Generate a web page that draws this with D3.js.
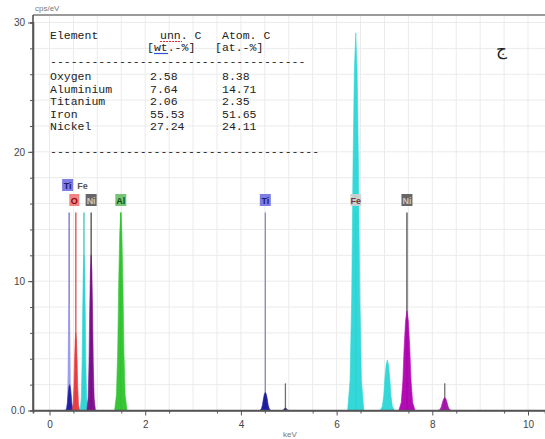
<!DOCTYPE html>
<html>
<head>
<meta charset="utf-8">
<script src="https://cdn.jsdelivr.net/npm/d3@7"></script>
<style>
  html, body { margin: 0; padding: 0; background: #fff; }
  svg { display: block; }
</style>
</head>
<body>
<div id="chart"></div>
<script>
// spectrum peaks (energy in keV, counts in cps/eV)
const peakLines = ["Ti L", "Ti L", "O K", "Fe L", "Ni L", "Al K", "Ti Ka", "Ti Kb", "Fe Ka", "Fe Kb", "Ni Ka", "Ni Kb"];
const peakEnergy = [0.41, 0.42, 0.55, 0.72, 0.87, 1.49, 4.51, 4.93, 6.40, 7.06, 7.47, 8.26];
const peakCounts = [8.3, 2.0, 6.0, 12.0, 12.0, 15.3, 1.4, 0.2, 29.2, 3.9, 7.7, 1.0];
const peakHalfWidth = [0.05, 0.09, 0.08, 0.08, 0.09, 0.13, 0.12, 0.08, 0.17, 0.15, 0.17, 0.14];

// element marker lines
const markerName = ["Ti", "O", "Fe", "Ni", "Al", "Ti", "Fe", "Ni"];
const markerEnergy = [0.41, 0.55, 0.72, 0.87, 1.49, 4.51, 6.40, 7.47];
const markerTop = 15.3;
const minorLineEnergy = [4.93, 8.26];
const minorLineTop = [2.1, 2.1];

// quantification table
const tableElements = ["Oxygen", "Aluminium", "Titanium", "Iron", "Nickel"];
const tableWt = ["2.58", "7.64", "2.06", "55.53", "27.24"];
const tableAt = ["8.38", "14.71", "2.35", "51.65", "24.11"];

const xTicks = [0, 2, 4, 6, 8, 10];
const yTicks = [0, 10, 20, 30];

const chartW = 545, chartH = 439;
const plotLeft = 33, plotRight = 545, plotTop = 15, plotBottom = 410.5;

const peakFill = {
  "Ti L": ["#9c9cf2", "#1c1ca0"], "O K": ["#e8383c"], "Fe L": ["#2cd4d4"],
  "Ni L": ["#7a0a8a"], "Al K": ["#2ec42e"], "Ti Ka": ["#16169a"], "Ti Kb": ["#333366"],
  "Fe Ka": ["#2ad6d6"], "Fe Kb": ["#2ad6d6"], "Ni Ka": ["#b000b0"], "Ni Kb": ["#a010a8"]
};
const markerStyle = {
  Ti: { line: "#6f6fd8", box: "#6f6fe0", text: "#1c1c70" },
  O: { line: "#e04848", box: "#ef7575", text: "#8b0000" },
  Fe: { line: "#34c6c6", box: "#d4d0d0", text: "#7a3434" },
  Ni: { line: "#4a4a4a", box: "#555555", text: "#c8c8c8" },
  Al: { line: "#2fbf2f", box: "#68bd68", text: "#0b4d0b" }
};
// relative outline of one peak (dx in half-widths, dy in fraction of height)
const peakShape = [[-1, 0], [-0.7, 0.08], [-0.5, 0.3], [-0.34, 0.64], [-0.17, 0.9], [0, 1],
                   [0.17, 0.9], [0.34, 0.64], [0.5, 0.3], [0.7, 0.08], [1, 0]];

const x = d3.scaleLinear().domain([-0.345, 10.355]).range([plotLeft, plotRight]);
const y = d3.scaleLinear().domain([0, 30]).range([plotBottom, 22.5]);

const svg = d3.select("#chart").append("svg")
  .attr("width", chartW).attr("height", chartH)
  .style("font-family", "Arial, 'Liberation Sans', sans-serif");

// grid
const grid = svg.append("g").attr("stroke", "#ebebeb").attr("stroke-width", 1);
grid.selectAll("line.v").data(d3.range(0, 10.5, 0.5)).enter().append("line")
  .attr("x1", d => x(d)).attr("x2", d => x(d)).attr("y1", plotTop).attr("y2", plotBottom);
grid.selectAll("line.h").data(d3.range(2, 31, 2)).enter().append("line")
  .attr("x1", plotLeft).attr("x2", plotRight).attr("y1", d => y(d)).attr("y2", d => y(d));

// frame top
svg.append("line").attr("x1", plotLeft).attr("x2", plotRight).attr("y1", plotTop).attr("y2", plotTop)
  .attr("stroke", "#9a9a9a").attr("stroke-width", 2);

// table
const tbl = svg.append("g")
  .style("font-family", "'Liberation Mono', 'DejaVu Sans Mono', monospace")
  .style("font-size", "11.5px").attr("fill", "#222");
tbl.append("text").attr("x", 50).attr("y", 39).text("Element");
tbl.append("text").attr("x", 160).attr("y", 39).text("unn. C");
tbl.append("text").attr("x", 222).attr("y", 39).text("Atom. C");
tbl.append("text").attr("x", 147).attr("y", 51).text("[wt.-%]");
tbl.append("text").attr("x", 215).attr("y", 51).text("[at.-%]");
tbl.append("line").attr("x1", 160).attr("x2", 182).attr("y1", 41.5).attr("y2", 41.5)
  .attr("stroke", "#e03030").attr("stroke-width", 1.2).attr("stroke-dasharray", "2,1");
tbl.append("line").attr("x1", 154).attr("x2", 168).attr("y1", 53.5).attr("y2", 53.5)
  .attr("stroke", "#3050d0").attr("stroke-width", 1.2);
tbl.append("text").attr("x", 50).attr("y", 65).text("-".repeat(37));
tbl.selectAll("text.el").data(tableElements).enter().append("text")
  .attr("x", 50).attr("y", (d, i) => 80 + i * 12.5).text(d => d);
tbl.selectAll("text.wt").data(tableWt).enter().append("text")
  .attr("x", 150).attr("y", (d, i) => 80 + i * 12.5).text(d => d);
tbl.selectAll("text.at").data(tableAt).enter().append("text")
  .attr("x", 222).attr("y", (d, i) => 80 + i * 12.5).text(d => d);
tbl.append("text").attr("x", 50).attr("y", 155).text("-".repeat(39));

svg.append("text").attr("x", 496).attr("y", 55)
  .style("font-family", "'DejaVu Sans', 'Noto Sans', sans-serif")
  .style("font-size", "17px").attr("fill", "#222").text("ج");

// marker lines
const markers = markerName.map((n, i) => ({ name: n, e: markerEnergy[i], low: markerEnergy[i] < 1 }));
svg.append("g").selectAll("line").data(markers).enter().append("line")
  .attr("x1", d => x(d.e)).attr("x2", d => x(d.e))
  .attr("y1", y(0)).attr("y2", y(markerTop))
  .attr("stroke", d => (d.name === "Ti" && !d.low) ? "#8a8abf" : markerStyle[d.name].line)
  .attr("stroke-width", 1.3);
svg.append("g").selectAll("line").data(minorLineEnergy).enter().append("line")
  .attr("x1", d => x(d)).attr("x2", d => x(d))
  .attr("y1", y(0)).attr("y2", (d, i) => y(minorLineTop[i]))
  .attr("stroke", "#707070").attr("stroke-width", 1.3);

// peaks
const outline = d3.line().x(d => x(d[0])).y(d => y(d[1]));
const fillCount = {};
const peaks = peakLines.map((l, i) => {
  fillCount[l] = (fillCount[l] || 0);
  const color = peakFill[l][fillCount[l]++] || peakFill[l][0];
  return { line: l, e: peakEnergy[i], c: peakCounts[i], w: peakHalfWidth[i], color };
});
svg.append("g").selectAll("path").data(peaks).enter().append("path")
  .attr("d", d => outline(peakShape.map(p => [d.e + p[0] * d.w, p[1] * d.c])))
  .attr("fill", d => d.color).attr("stroke", d => d.color).attr("stroke-width", 0.6)
  .attr("opacity", 0.95);

// marker labels
const labels = svg.append("g").style("font-size", "9px").style("font-weight", "bold");
markers.forEach(d => {
  const upper = d.low && (d.name === "Ti" || d.name === "Fe");
  const cy = upper ? 185 : 200;
  const cx = x(d.e) + (d.low && d.name !== "Ni" ? -1.5 : 0);
  const st = markerStyle[d.name];
  const w = d.name.length > 1 ? 11 : 10;
  if (!(d.low && d.name === "Fe")) {
    labels.append("rect").attr("x", cx - w / 2).attr("y", cy - 6).attr("width", w).attr("height", 12)
      .attr("fill", st.box).attr("opacity", 0.9);
  }
  labels.append("text").attr("x", cx).attr("y", cy + 3.5).attr("text-anchor", "middle")
    .attr("fill", (d.low && d.name === "Fe") ? "#555" : st.text).text(d.name);
});

// axes
const axisColor = "#555";
const yAxis = svg.append("g").attr("transform", `translate(${plotLeft},0)`)
  .call(d3.axisLeft(y).tickValues(yTicks).tickSize(5)
    .tickFormat(d => d === 0 ? "0.0" : d));
svg.append("g").attr("transform", `translate(${plotLeft},0)`)
  .call(d3.axisLeft(y).tickValues(d3.range(2, 30, 2)).tickSize(3).tickFormat(""));
const xAxis = svg.append("g").attr("transform", `translate(0,${plotBottom})`)
  .call(d3.axisBottom(x).tickValues(xTicks).tickSize(5).tickPadding(5));
svg.append("g").attr("transform", `translate(0,${plotBottom})`)
  .call(d3.axisBottom(x).tickValues(d3.range(0.5, 10.5, 1)).tickSize(3).tickFormat(""));
svg.selectAll(".domain").attr("stroke", axisColor).attr("stroke-width", 1.6);
svg.selectAll(".tick line").attr("stroke", axisColor);
svg.selectAll(".tick text").attr("fill", "#444").style("font-size", "10px")
  .style("font-family", "Arial, 'Liberation Sans', sans-serif");
xAxis.select(".domain").attr("d", `M${plotLeft},0H${plotRight}`);
yAxis.select(".domain").attr("d", `M0,${plotTop}V${plotBottom}`);

svg.append("text").attr("x", 35).attr("y", 11).attr("fill", "#777")
  .style("font-size", "8px").text("cps/eV");
svg.append("text").attr("x", 283).attr("y", 437).attr("fill", "#777")
  .style("font-size", "8px").text("keV");
</script>
</body>
</html>
